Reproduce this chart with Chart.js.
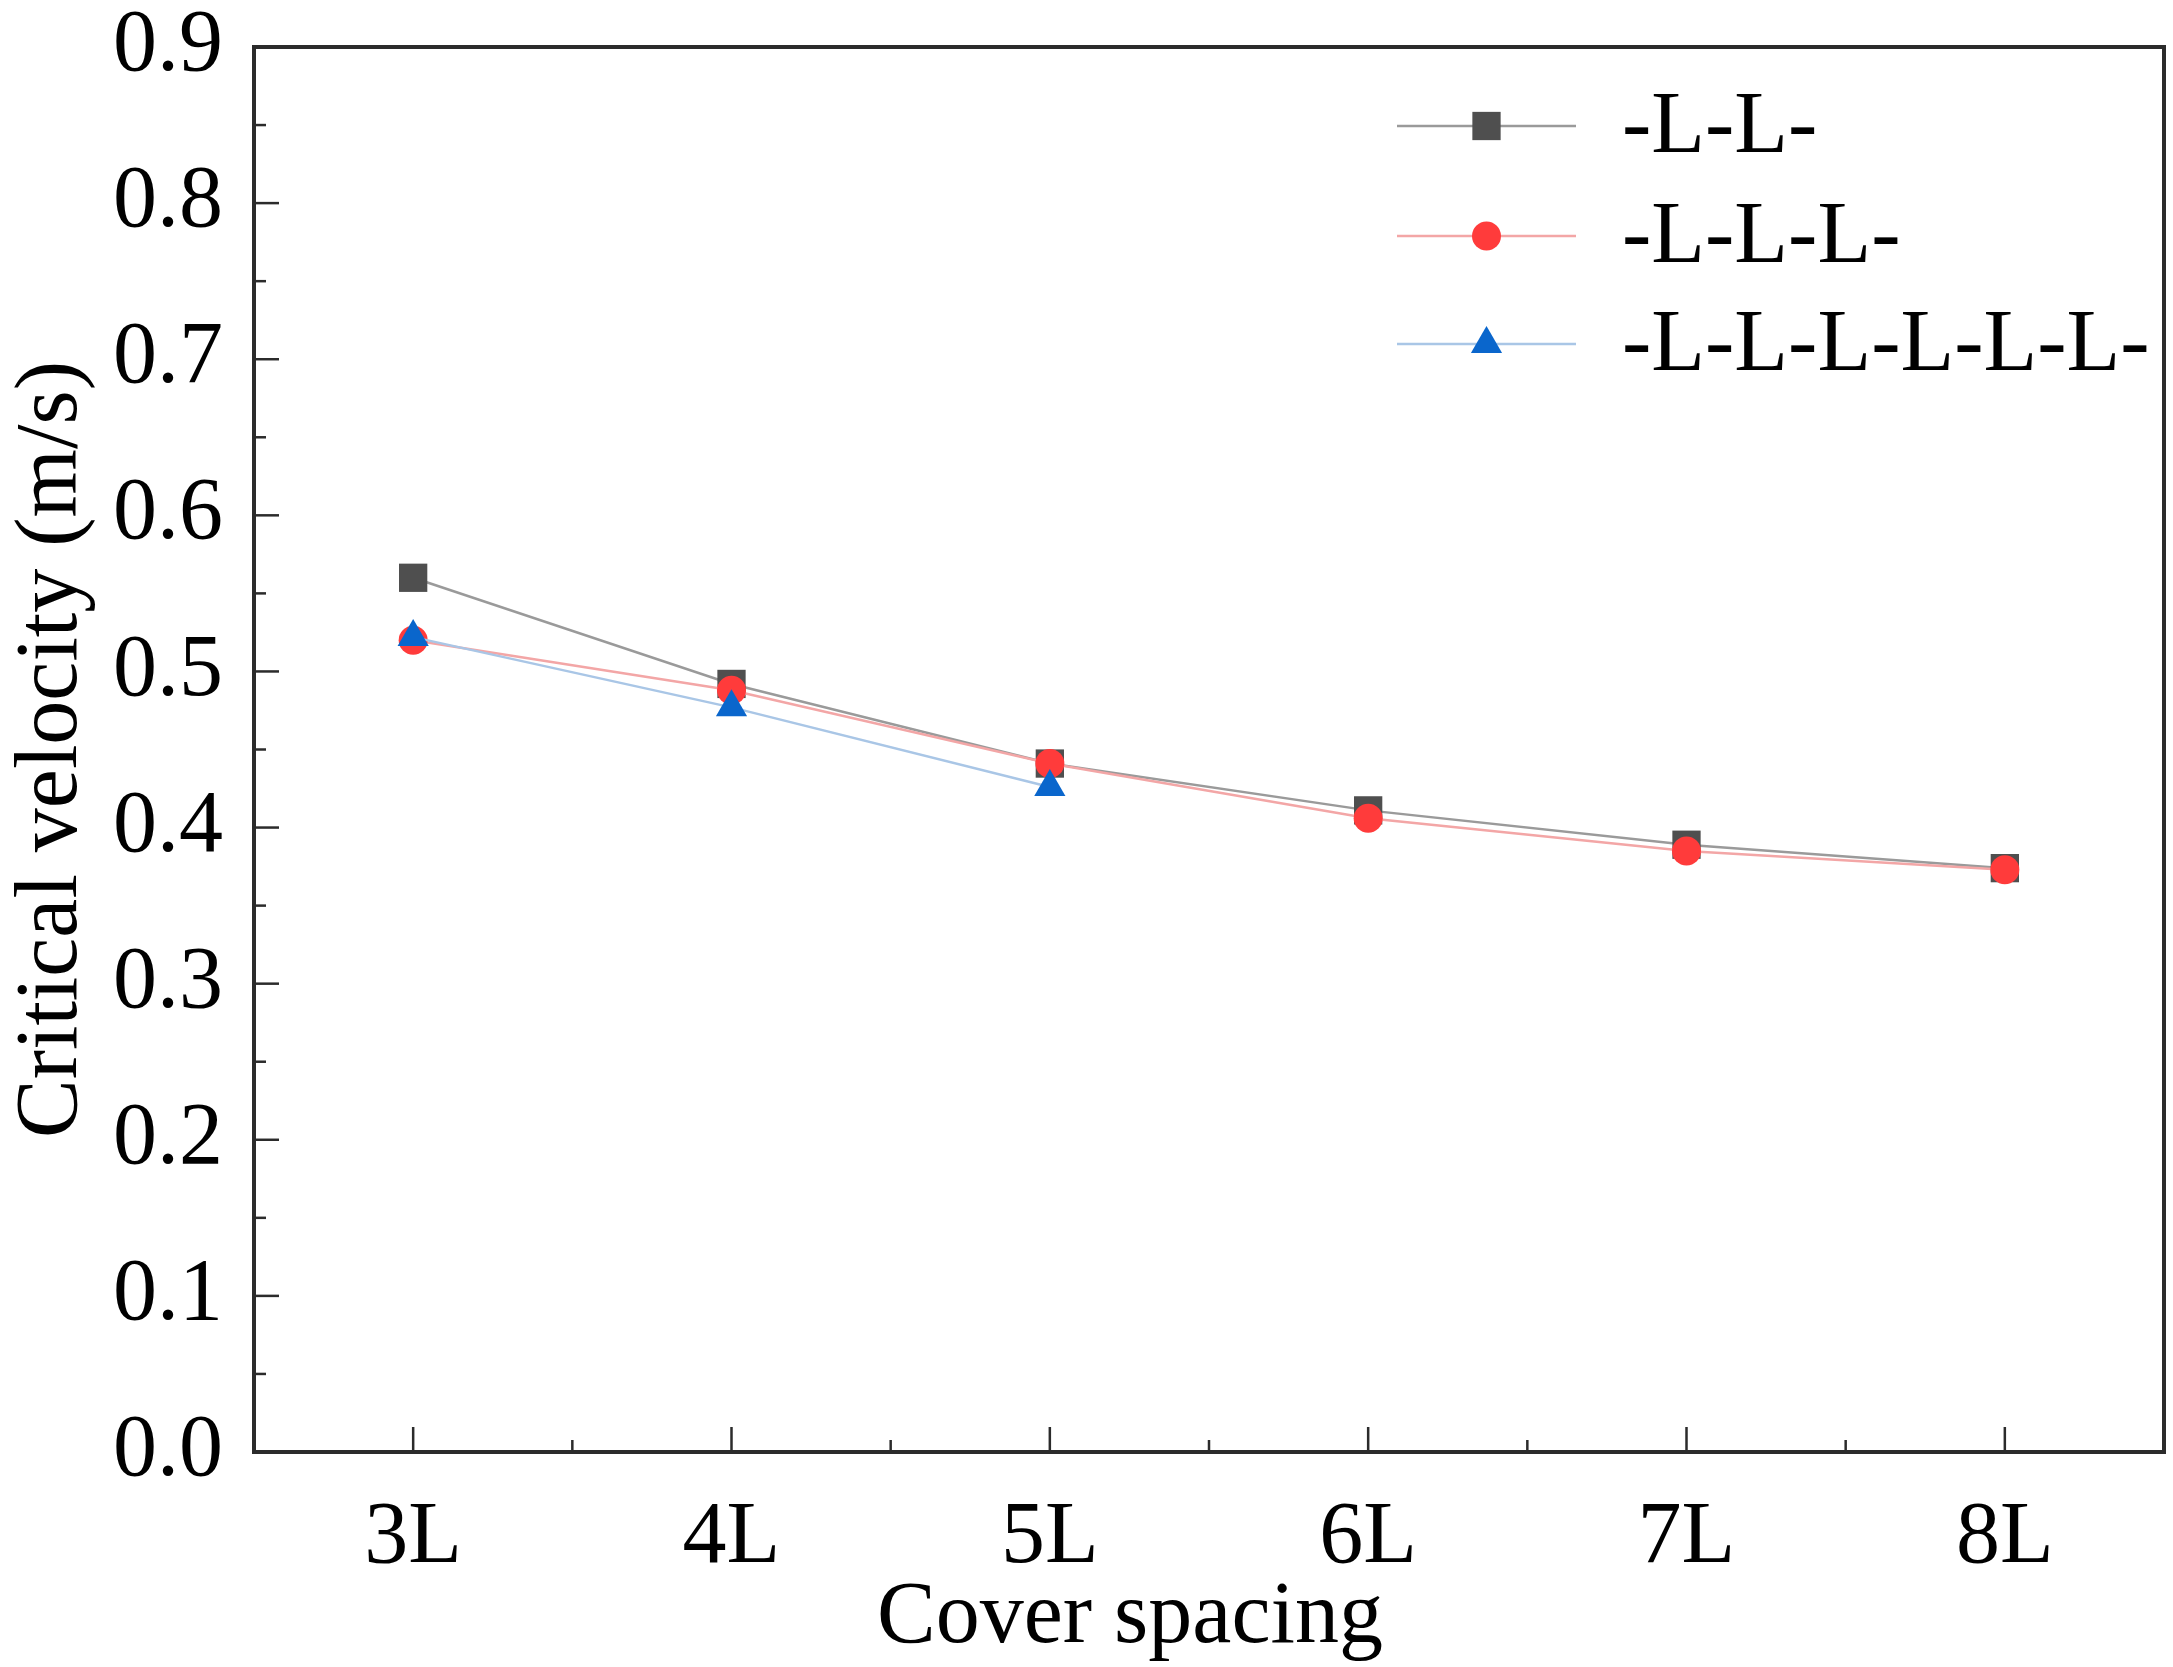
<!DOCTYPE html>
<html>
<head>
<meta charset="utf-8">
<script src="https://cdn.jsdelivr.net/npm/chart.js@4.4.1/dist/chart.umd.min.js"></script>
<style>
html,body{margin:0;padding:0;background:#fff;}
#wrap{width:2173px;height:1667px;position:relative;}
</style>
</head>
<body>
<div id="wrap"><canvas id="c" width="2173" height="1667"></canvas></div>
<script>
const categories = ['3L','4L','5L','6L','7L','8L'];
const seriesNames = ['-L-L-','-L-L-L-','-L-L-L-L-L-L-'];
const seriesLL = [0.56, 0.492, 0.441, 0.411, 0.389, 0.374];
const seriesLLL = [0.520, 0.488, 0.441, 0.406, 0.385, 0.373];
const seriesLLLLLL = [0.522, 0.477, 0.426];
const yTicks = [0,0.1,0.2,0.3,0.4,0.5,0.6,0.7,0.8,0.9];
const xTitle = 'Cover spacing';
const yTitle = 'Critical velocity (m/s)';

const FONT = "'Liberation Serif', 'Times New Roman', serif";

const styles = [
  {line:'#9a9a9a', fill:'#4f4f4f', shape:'rect', r:20},
  {line:'#f3a6a6', fill:'#ff3b3b', shape:'circle', r:14.5},
  {line:'#a9c6e6', fill:'#0a66cc', shape:'triangle', r:18}
];
const allData = [seriesLL, seriesLLL, seriesLLLLLL];

const datasets = allData.map((d,i)=>({
  label: seriesNames[i],
  data: d,
  borderColor: styles[i].line,
  borderWidth: 2.5,
  backgroundColor: styles[i].fill,
  pointBackgroundColor: styles[i].fill,
  pointBorderColor: styles[i].fill,
  pointBorderWidth: 0,
  pointStyle: styles[i].shape,
  pointRadius: styles[i].r,
  pointHoverRadius: styles[i].r,
  tension: 0,
  fill: false,
  clip: false,
  order: 2 - i
}));

const framePlugin = {
  id: 'frame',
  afterDatasetsDraw(chart){
    const ctx = chart.ctx, a = chart.chartArea;
    const xs = chart.scales.x, ys = chart.scales.y;
    ctx.save();
    ctx.strokeStyle = '#2b2b2b';
    ctx.lineWidth = 2.5;
    for (let v = 0; v <= 0.9 + 1e-9; v += 0.05) {
      const major = Math.abs(Math.round(v*10) - v*10) < 1e-6;
      const py = ys.getPixelForValue(v);
      ctx.beginPath();
      ctx.moveTo(a.left, py);
      ctx.lineTo(a.left + (major ? 25 : 12), py);
      ctx.stroke();
    }
    for (let i = 0; i < categories.length; i++) {
      const px = xs.getPixelForValue(i);
      ctx.beginPath();
      ctx.moveTo(px, a.bottom);
      ctx.lineTo(px, a.bottom - 25);
      ctx.stroke();
      if (i < categories.length - 1) {
        const pm = (px + xs.getPixelForValue(i+1)) / 2;
        ctx.beginPath();
        ctx.moveTo(pm, a.bottom);
        ctx.lineTo(pm, a.bottom - 12);
        ctx.stroke();
      }
    }
    ctx.lineWidth = 4;
    ctx.strokeRect(a.left, a.top, a.right - a.left, a.bottom - a.top);
    ctx.fillStyle = '#000';
    ctx.font = '88px ' + FONT;
    ctx.textAlign = 'center';
    ctx.textBaseline = 'alphabetic';
    ctx.fillText(xTitle, 1130, 1642);
    ctx.restore();
  }
};

const legendPlugin = {
  id: 'originLegend',
  afterDraw(chart){
    const ctx = chart.ctx;
    const x0 = 1397, x1 = 1576, tx = 1622;
    const ys0 = [126, 236, 344];
    ctx.save();
    chart.data.datasets.forEach((ds, i) => {
      const y = ys0[i];
      ctx.strokeStyle = ds.borderColor;
      ctx.lineWidth = 2.5;
      ctx.beginPath();
      ctx.moveTo(x0, y); ctx.lineTo(x1, y); ctx.stroke();
      ctx.fillStyle = ds.pointBackgroundColor;
      ctx.strokeStyle = ds.pointBorderColor;
      ctx.lineWidth = 0.01;
      Chart.helpers.drawPoint(ctx, {pointStyle: ds.pointStyle, radius: ds.pointRadius, borderWidth: 0, rotation: 0}, (x0+x1)/2, y);
      ctx.fillStyle = '#000';
      ctx.font = '88px ' + FONT;
      ctx.textBaseline = 'middle';
      ctx.textAlign = 'left';
      ctx.fillText(ds.label, tx, y + 3);
    });
    ctx.restore();
  }
};

new Chart(document.getElementById('c'), {
  type: 'line',
  data: { labels: categories, datasets },
  plugins: [framePlugin, legendPlugin],
  options: {
    responsive: false,
    animation: false,
    devicePixelRatio: 1,
    layout: { autoPadding: false, padding: { top: 47, right: 9, left: 0, bottom: 0 } },
    plugins: { legend: { display: false }, tooltip: { enabled: false } },
    scales: {
      x: {
        type: 'category',
        offset: true,
        grid: { display: false, drawTicks: false },
        border: { display: false },
        ticks: { color: '#000', font: { family: FONT, size: 88 }, padding: 34, maxRotation: 0 },
        afterFit(s){ s.height = 215; s.paddingLeft = 0; s.paddingRight = 0; }
      },
      y: {
        min: 0, max: 0.9,
        afterBuildTicks(s){ s.ticks = yTicks.map(v => ({value: v})); },
        grid: { display: false, drawTicks: false },
        border: { display: false },
        ticks: { color: '#000', font: { family: FONT, size: 88 }, padding: 31, callback: v => Number(v).toFixed(1) },
        title: { display: true, text: yTitle, color: '#000', font: { family: FONT, size: 88 }, padding: { top: 0, bottom: 0 } },
        afterFit(s){ s.width = 254; s.paddingTop = 0; s.paddingBottom = 0; }
      }
    }
  }
});
</script>
</body>
</html>
